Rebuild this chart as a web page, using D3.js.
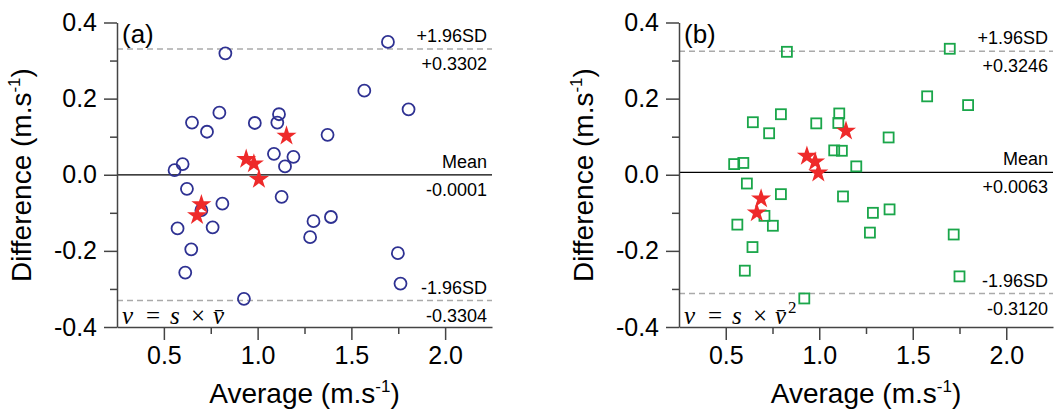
<!DOCTYPE html>
<html>
<head>
<meta charset="utf-8">
<script src="https://cdn.jsdelivr.net/npm/d3@7"></script>
<style>
  body { margin: 0; background: #fff; }
  svg text { font-family: "Liberation Sans", Arial, sans-serif; fill: #000; }
</style>
</head>
<body>
<script>
// values
// panel (a): v = s x mean(v)
const avgA  = [0.828, 1.695, 1.569, 1.805, 0.796, 0.650, 0.730, 0.985, 1.114, 1.105,
               1.373, 1.087, 1.191, 1.146, 0.600, 0.557, 0.623, 1.128, 0.812, 0.700,
               0.573, 0.760, 0.646, 0.614, 0.927, 1.298, 1.391, 1.280, 1.748, 1.762];
const diffA = [0.319, 0.349, 0.221, 0.172, 0.163, 0.137, 0.113, 0.136, 0.159, 0.137,
               0.105, 0.055, 0.047, 0.022, 0.028, 0.012, -0.037, -0.058, -0.076, -0.093,
               -0.141, -0.138, -0.196, -0.257, -0.326, -0.122, -0.111, -0.164, -0.206, -0.286];
const starAvgA  = [1.154, 0.939, 0.980, 1.007, 0.700, 0.677];
const starDiffA = [0.102, 0.041, 0.029, -0.012, -0.078, -0.107];

// panel (b): v = s x mean(v)^2
const avgB  = [0.827, 1.698, 1.577, 1.796, 0.795, 0.645, 0.732, 0.984, 1.107, 1.102,
               1.371, 1.080, 1.121, 1.198, 0.545, 0.594, 0.613, 0.795, 1.127, 0.707,
               0.562, 0.752, 0.643, 0.602, 0.920, 1.287, 1.376, 1.271, 1.719, 1.750];
const diffB = [0.323, 0.331, 0.206, 0.183, 0.159, 0.138, 0.109, 0.135, 0.161, 0.136,
               0.098, 0.064, 0.063, 0.022, 0.028, 0.031, -0.023, -0.051, -0.057, -0.108,
               -0.131, -0.134, -0.190, -0.252, -0.325, -0.100, -0.091, -0.152, -0.157, -0.267];
const starAvgB  = [1.143, 0.934, 0.978, 0.995, 0.689, 0.666];
const starDiffB = [0.115, 0.049, 0.034, 0.005, -0.063, -0.100];

// limits of agreement: upper, mean, lower
const limitsA = [0.3302, -0.0001, -0.3304];
const limitsB = [0.3246, 0.0063, -0.3120];
const limitNames  = ["+1.96SD", "Mean", "-1.96SD"];
const limitTextsA = ["+0.3302", "-0.0001", "-0.3304"];
const limitTextsB = ["+0.3246", "+0.0063", "-0.3120"];

const xTicks = [0.5, 1.0, 1.5, 2.0];
const xMinor = [0.75, 1.25, 1.75];
const yTicks = [-0.4, -0.2, 0.0, 0.2, 0.4];
const yMinor = [-0.3, -0.1, 0.1, 0.3];

const svg = d3.select("body").append("svg")
  .attr("width", 1055)
  .attr("height", 415);

const panels = [
  { left: 117, right: 492, tag: "(a)", avg: avgA, diff: diffA, sa: starAvgA, sd: starDiffA,
    limits: limitsA, texts: limitTextsA, color: "#2e3192", sq: false },
  { left: 679, right: 1053, tag: "(b)", avg: avgB, diff: diffB, sa: starAvgB, sd: starDiffB,
    limits: limitsB, texts: limitTextsB, color: "#1aa64a", sq: true }
];

const plotTop = 22.5, plotBottom = 327;
const serif = "'Liberation Serif', 'DejaVu Serif', serif";

panels.forEach(p => {
  const x = d3.scaleLinear().domain([0.25, 2.25]).range([p.left, p.right]);
  const y = d3.scaleLinear().domain([-0.4, 0.4]).range([plotBottom, plotTop]);
  const g = svg.append("g");

  // limit lines
  p.limits.forEach((v, i) => {
    g.append("line")
      .attr("x1", x(0.25)).attr("x2", x(2.25))
      .attr("y1", y(v)).attr("y2", y(v))
      .attr("stroke", i === 1 ? "#000" : "#aaa")
      .attr("stroke-width", i === 1 ? 1.3 : 1.5)
      .attr("stroke-dasharray", i === 1 ? null : "6,4");
    g.append("text")
      .attr("x", p.right - 5).attr("y", y(v) - 7)
      .attr("text-anchor", "end").attr("font-size", 18)
      .text(limitNames[i]);
    g.append("text")
      .attr("x", p.right - 5).attr("y", y(v) + 21)
      .attr("text-anchor", "end").attr("font-size", 18)
      .text(p.texts[i]);
  });

  // points
  if (p.sq) {
    g.selectAll("rect.pt").data(p.avg).enter().append("rect")
      .attr("class", "pt")
      .attr("x", d => x(d) - 5).attr("y", (d, i) => y(p.diff[i]) - 5)
      .attr("width", 10).attr("height", 10)
      .attr("fill", "none").attr("stroke", p.color).attr("stroke-width", 1.8);
  } else {
    g.selectAll("circle.pt").data(p.avg).enter().append("circle")
      .attr("class", "pt")
      .attr("cx", d => x(d)).attr("cy", (d, i) => y(p.diff[i]))
      .attr("r", 6)
      .attr("fill", "none").attr("stroke", p.color).attr("stroke-width", 1.8);
  }

  const star = d3.symbol().type(d3.symbolStar).size(125);
  g.selectAll("path.star").data(p.sa).enter().append("path")
    .attr("class", "star")
    .attr("d", star)
    .attr("transform", (d, i) => `translate(${x(d)},${y(p.sd[i])})`)
    .attr("fill", "#ee2a2a");

  // axes
  g.append("g").attr("transform", `translate(0,${plotBottom})`)
    .call(d3.axisBottom(x).tickValues(xTicks).tickFormat(d => d.toFixed(1))
      .tickSize(13).tickSizeOuter(0).tickPadding(6));
  g.append("g").attr("transform", `translate(0,${plotBottom})`)
    .call(d3.axisBottom(x).tickValues(xMinor).tickFormat("").tickSize(7).tickSizeOuter(0))
    .select(".domain").remove();

  g.append("g").attr("transform", `translate(${p.left},0)`)
    .call(d3.axisLeft(y).tickValues(yTicks).tickFormat(d => d.toFixed(1))
      .tickSize(13).tickSizeOuter(0).tickPadding(7));
  g.append("g").attr("transform", `translate(${p.left},0)`)
    .call(d3.axisLeft(y).tickValues(yMinor).tickFormat("").tickSize(7).tickSizeOuter(0))
    .select(".domain").remove();

  g.selectAll(".domain, .tick line").attr("stroke", "#444").attr("stroke-width", 1.5);
  g.selectAll(".tick text").attr("font-size", 25).attr("fill", "#000");

  // panel tag
  g.append("text").attr("x", p.left + 5).attr("y", 43)
    .attr("font-size", 26).text(p.tag);

  // formula
  const f = g.append("text").attr("y", 324)
    .style("font-family", serif)
    .attr("font-size", 25);
  const fx = p.left;
  f.append("tspan").attr("x", fx + 5).attr("font-style", "italic").text("v");
  f.append("tspan").attr("x", fx + 29).text("=");
  f.append("tspan").attr("x", fx + 53).attr("font-style", "italic").text("s");
  f.append("tspan").attr("x", fx + 74).text("\u00d7");
  f.append("tspan").attr("x", fx + 96).attr("font-style", "italic").text("v\u0304");
  if (p.sq) {
    f.append("tspan").attr("x", fx + 109).attr("dy", -11).attr("font-size", 17).text("2");
  }

  // axis titles
  const xt = g.append("text")
    .attr("x", (p.left + p.right) / 2).attr("y", 403)
    .attr("text-anchor", "middle").attr("font-size", 28);
  xt.append("tspan").text("Average (m.s");
  xt.append("tspan").attr("dy", -11).attr("font-size", 17).text("-1");
  xt.append("tspan").attr("dy", 11).text(")");

  const yt = g.append("text")
    .attr("transform", `translate(${p.left - 86},175) rotate(-90)`)
    .attr("text-anchor", "middle").attr("font-size", 28);
  yt.append("tspan").text("Difference (m.s");
  yt.append("tspan").attr("dy", -11).attr("font-size", 17).text("-1");
  yt.append("tspan").attr("dy", 11).text(")");
});
</script>
</body>
</html>
